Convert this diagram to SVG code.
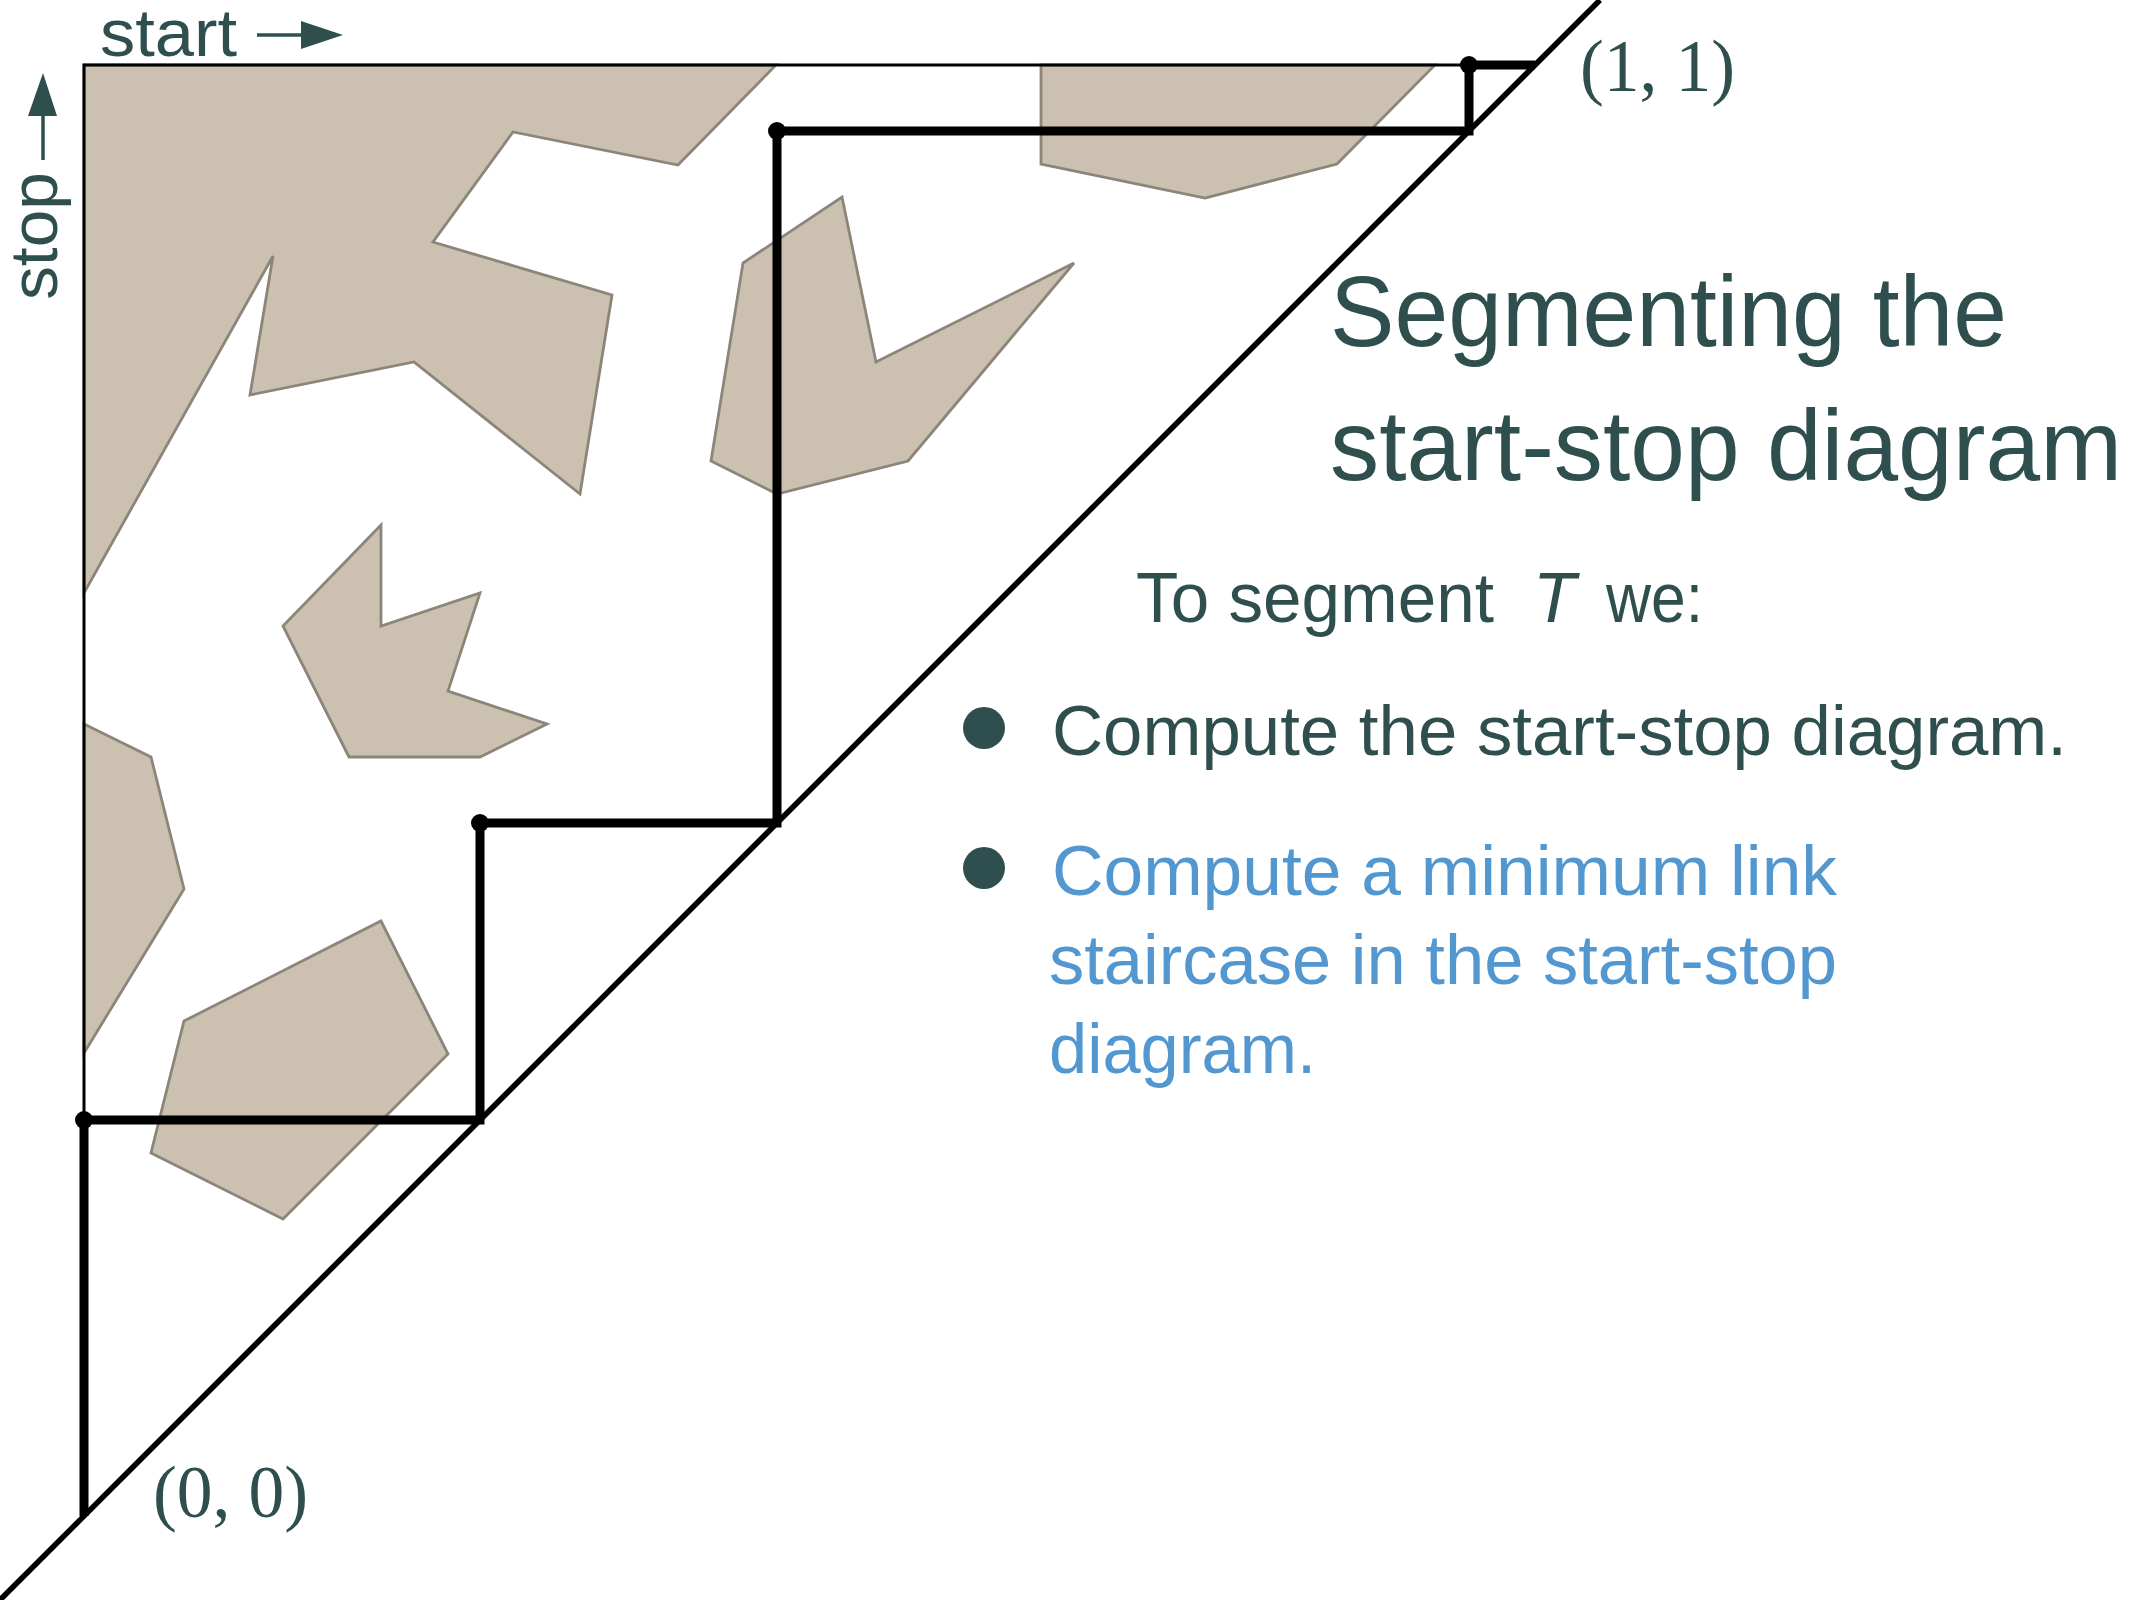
<svg xmlns="http://www.w3.org/2000/svg" width="2134" height="1600" viewBox="0 0 2134 1600">
  <style>
    .obst { fill: #ccc0b0; stroke: #8b857a; stroke-width: 2.8; stroke-linejoin: miter; }
    .frame { fill: none; stroke: #000; stroke-width: 3; }
    .diag { fill: none; stroke: #000; stroke-width: 5.5; }
    .stair { fill: none; stroke: #000; stroke-width: 9; stroke-linejoin: miter; stroke-linecap: butt; }
    .dot { fill: #000; }
    .ink { fill: #2f4f4f; }
    .sans { font-family: "Liberation Sans", Arial, sans-serif; }
    .serif { font-family: "Liberation Serif", "Times New Roman", serif; }
    .blue { fill: #5297d0; }
  </style>
  <rect x="0" y="0" width="2134" height="1600" fill="#fff"/>

  <g id="obstacles">
    <polygon id="obstacle-1" class="obst" points="84,65 776,65 678,165 513,132 433,242 612,295 580,494 414,362 250,395 273,256 84,593"/>
    <polygon id="obstacle-2" class="obst" points="1041,65 1435,65 1337,164 1205,198 1041,164"/>
    <polygon id="obstacle-3" class="obst" points="743,263 842,197 876,362 1074,263 908,461 777,494 711,461"/>
    <polygon id="obstacle-4" class="obst" points="381,525 381,626 480,593 448,691 547,724 480,757 349,757 283,626"/>
    <polygon id="obstacle-5" class="obst" points="84,724 151,757 184,889 84,1053"/>
    <polygon id="obstacle-6" class="obst" points="184,1021 381,921 448,1054 283,1219 151,1153"/>
  </g>

  <g id="frame">
    <polyline class="frame" points="84,1516 84,65 1535,65"/>
  </g>

  <g id="diagonal">
    <line class="diag" x1="0" y1="1600" x2="1600" y2="0"/>
  </g>

  <g id="connectors">
    <polyline class="stair" points="84,1516 84,1120 480,1120 480,823 777,823 777,131 1469,131 1469,65 1535,65"/>
  </g>

  <g id="dots">
    <circle class="dot" cx="84" cy="1120" r="9"/>
    <circle class="dot" cx="480" cy="823" r="9"/>
    <circle class="dot" cx="777" cy="131" r="9"/>
    <circle class="dot" cx="1469" cy="65" r="9"/>
  </g>

  <g id="axis-start">
    <text class="ink sans" x="100" y="56" font-size="66" textLength="137" lengthAdjust="spacingAndGlyphs">start</text>
    <line x1="257" y1="35" x2="303" y2="35" stroke="#2f4f4f" stroke-width="3.5"/>
    <polygon class="ink" points="301,21 343,35 301,49"/>
  </g>

  <g id="axis-stop">
    <text class="ink sans" transform="translate(57,300) rotate(-90)" x="0" y="0" font-size="66" textLength="128" lengthAdjust="spacingAndGlyphs">stop</text>
    <line x1="43" y1="160" x2="43" y2="114" stroke="#2f4f4f" stroke-width="3.5"/>
    <polygon class="ink" points="28,116 43,73 57,116"/>
  </g>

  <g id="label-11">
    <text class="ink serif" x="1580" y="91" font-size="74" textLength="155" lengthAdjust="spacingAndGlyphs">(1, 1)</text>
  </g>
  <g id="label-00">
    <text class="ink serif" x="153" y="1517" font-size="74" textLength="155" lengthAdjust="spacingAndGlyphs">(0, 0)</text>
  </g>

  <g id="title">
    <text class="ink sans" x="1330" y="346" font-size="100" textLength="677" lengthAdjust="spacingAndGlyphs">Segmenting the</text>
    <text class="ink sans" x="1330" y="480" font-size="100" textLength="792" lengthAdjust="spacingAndGlyphs">start-stop diagram</text>
  </g>

  <g id="intro">
    <text class="ink sans" y="622" font-size="70"><tspan x="1136" textLength="358" lengthAdjust="spacingAndGlyphs">To segment</tspan><tspan x="1533" font-style="italic">T</tspan><tspan x="1606" textLength="97" lengthAdjust="spacingAndGlyphs">we:</tspan></text>
  </g>

  <g id="bullet-1">
    <circle class="ink" cx="984" cy="728" r="21"/>
    <text class="ink sans" x="1052" y="755" font-size="70" textLength="1015" lengthAdjust="spacingAndGlyphs">Compute the start-stop diagram.</text>
  </g>

  <g id="bullet-2">
    <circle class="ink" cx="984" cy="868" r="21"/>
    <text class="blue sans" x="1052" y="895" font-size="70" textLength="785" lengthAdjust="spacingAndGlyphs">Compute a minimum link</text>
    <text class="blue sans" x="1049" y="984" font-size="70" textLength="788" lengthAdjust="spacingAndGlyphs">staircase in the start-stop</text>
    <text class="blue sans" x="1049" y="1073" font-size="70" textLength="267" lengthAdjust="spacingAndGlyphs">diagram.</text>
  </g>
</svg>
